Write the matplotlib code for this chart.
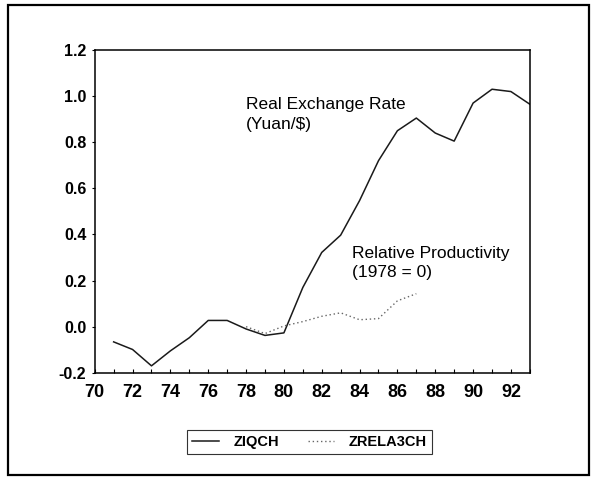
import numpy as np
import matplotlib.pyplot as plt
from matplotlib.patches import Rectangle
from matplotlib.ticker import MultipleLocator, FormatStrFormatter

plt.rcParams['font.family'] = ['Liberation Sans', 'DejaVu Sans']
plt.rcParams['axes.unicode_minus'] = False

# real exchange rate (ZIQCH), 1971-1993
years = [71, 72, 73, 74, 75, 76, 77, 78, 79, 80, 81, 82,
         83, 84, 85, 86, 87, 88, 89, 90, 91, 92, 93]
ziqch = [-0.066, -0.099, -0.170, -0.105, -0.048, 0.027, 0.027, -0.010,
         -0.038, -0.027, 0.170, 0.322, 0.397, 0.547, 0.720, 0.850,
         0.905, 0.840, 0.805, 0.970, 1.030, 1.020, 0.965]

# relative productivity (ZRELA3CH), 1978-1987
rp_years = [78, 79, 80, 81, 82, 83, 84, 85, 86, 87]
zrela3ch = [0.000, -0.030, 0.003, 0.022, 0.045, 0.060, 0.030, 0.035,
            0.112, 0.143]

fig = plt.figure(figsize=(5.92, 4.86), dpi=100)
ax = fig.add_axes([0.160, 0.233, 0.735, 0.664])

ax.plot(years, ziqch, color='#1a1a1a', lw=1.1, label='ZIQCH')
ax.plot(rp_years, zrela3ch, color='#666666', lw=1.0,
        linestyle=(0, (1, 2)), label='ZRELA3CH')

ax.set_xlim(70, 93)
ax.set_ylim(-0.2, 1.2)
ax.xaxis.set_major_locator(MultipleLocator(2))
ax.xaxis.set_minor_locator(MultipleLocator(1))
ax.yaxis.set_major_locator(MultipleLocator(0.2))
ax.yaxis.set_major_formatter(FormatStrFormatter('%.1f'))

ax.tick_params(axis='x', which='both', direction='in', length=3, width=0.8,
               pad=8, labelsize=13)
ax.tick_params(axis='y', direction='out', length=2, width=0.8, pad=4,
               labelsize=11.5)
for lab in ax.get_xticklabels() + ax.get_yticklabels():
    lab.set_fontweight('bold')
for sp in ax.spines.values():
    sp.set_linewidth(1.1)

ax.text(78.0, 0.995, 'Real Exchange Rate\n(Yuan/$)', fontsize=12.5,
        va='top', ha='left', linespacing=1.4)
ax.text(83.6, 0.352, 'Relative Productivity\n(1978 = 0)', fontsize=12.5,
        va='top', ha='left', linespacing=1.4)

leg = fig.legend(loc='center', bbox_to_anchor=(0.523, 0.090), ncol=2,
                 fancybox=False, edgecolor='#333333', framealpha=1,
                 handlelength=1.8, columnspacing=2.0, handletextpad=1.0,
                 borderpad=0.35, prop={'size': 10.5, 'weight': 'bold'})
leg.get_frame().set_linewidth(0.8)

# outer frame of the scanned figure
fig.patches.append(Rectangle((8 / 592, 1 - 475 / 486), 581 / 592, 470 / 486,
                             transform=fig.transFigure, fill=False,
                             edgecolor='black', lw=1.6))

fig.savefig('out.png', dpi=100)
